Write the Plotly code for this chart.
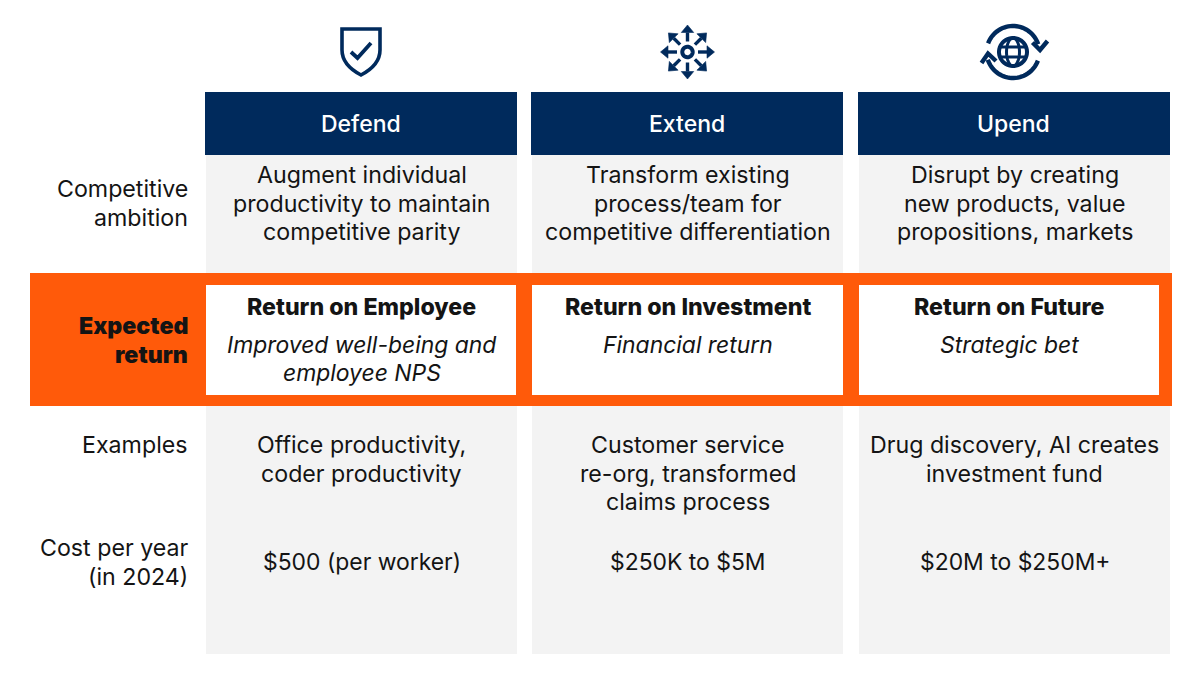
import numpy as np
import plotly.graph_objects as go

FONT = "Inter"
NAVY = "#002A5C"
ORANGE = "#FF5A0A"
GRAY = "#F3F3F3"
INK = "#141414"

columns = ["Defend", "Extend", "Upend"]
ambition = [
    ["Augment individual", "productivity to maintain", "competitive parity"],
    ["Transform existing", "process/team for", "competitive differentiation"],
    ["Disrupt by creating", "new products, value", "propositions, markets"],
]
return_titles = ["Return on Employee", "Return on Investment", "Return on Future"]
return_notes = [
    ["Improved well-being and", "employee NPS"],
    ["Financial return"],
    ["Strategic bet"],
]
examples = [
    ["Office productivity,", "coder productivity"],
    ["Customer service", "re-org, transformed", "claims process"],
    ["Drug discovery, AI creates", "investment fund"],
]
costs = ["$500 (per worker)", "$250K to $5M", "$20M to $250M+"]
row_labels = [
    (["Competitive", "ambition"], 189, False),
    (["Expected", "return"], 326, True),
    (["Examples"], 445, False),
    (["Cost per year", "(in 2024)"], 548, False),
]

col_left = [206, 532, 859]
col_right = [517, 843, 1170]
box_left = [206, 532, 859]
box_right = [516, 843, 1159]
LINE = 28.5
SIZE = 23.2

shapes, notes = [], []


def rect(x0, y0, x1, y1, color):
    shapes.append(dict(type="rect", xref="x", yref="y", x0=x0, x1=x1, y0=y0, y1=y1,
                       fillcolor=color, line=dict(width=0), layer="below"))


def text(s, x, y, anchor="center", weight=400, italic=False, color=INK, size=SIZE):
    notes.append(dict(text=s, x=x, y=y, xref="x", yref="y",
                      xanchor=anchor, yanchor="middle", showarrow=False,
                      font=dict(family=FONT, size=size, color=color, weight=weight,
                                style="italic" if italic else "normal")))


def block(lines, x, y, **kw):
    for i, s in enumerate(lines):
        text(s, x, y + i * LINE, **kw)


def path(d, width=3.4, fill=None):
    shapes.append(dict(type="path", xref="x", yref="y", path=d,
                       line=dict(color=NAVY, width=width),
                       fillcolor=fill if fill else "rgba(0,0,0,0)"))


def poly(pts, close=False):
    return "M" + " L".join(f"{x:.2f},{y:.2f}" for x, y in pts) + (" Z" if close else "")


def arc(cx, cy, r, a0, a1, n=32, ry=None):
    t = np.radians(np.linspace(a0, a1, n))
    return list(zip(cx + r * np.cos(t), cy + (ry if ry else r) * np.sin(t)))


for i in range(3):
    rect(col_left[i], 155, col_right[i], 654, GRAY)
    rect(col_left[i] - 1, 92, col_right[i], 155, NAVY)
rect(30, 273, 1172, 406, ORANGE)
for i in range(3):
    rect(box_left[i], 285, box_right[i], 395, "#FFFFFF")

for i in range(3):
    cx = (col_left[i] + col_right[i]) / 2
    text(columns[i], cx - 1, 123.5, color="#FFFFFF", weight=500, size=23)
    block(ambition[i], cx, 175)
    text(return_titles[i], cx - (0 if i < 2 else 5), 307, weight=800)
    block(return_notes[i], cx - (0 if i < 2 else 5), 344.5, italic=True, size=22.9)
    block(examples[i], cx, 445)
    text(costs[i], cx, 561.5, size=22.9)

for lines, y, bold in row_labels:
    block(lines, 190, y, anchor="right", weight=900 if bold else 400)

# Shield icon
path("M342,29 L380,29 L380,50 Q380,65 361,75 Q342,65 342,50 Z", 3.6)
path(poly([(351, 52), (357.5, 58), (371, 43)]), 3.8)

# Burst icon: ring and eight arrows
cx, cy = 687.5, 52
path(poly(arc(cx, cy, 5.2, 0, 360), True), 4)
for k in range(8):
    a = np.radians(45 * k)
    u = np.array([np.cos(a), np.sin(a)])
    v = np.array([-u[1], u[0]])
    c = np.array([cx, cy])
    tip = 27
    shaft = c + u * 10.5
    neck = c + u * (tip - 7.5)
    path(poly([tuple(shaft), tuple(neck)]), 3.4)
    head = [tuple(c + u * tip), tuple(neck + v * 6.2), tuple(neck - v * 6.2)]
    path(poly(head, True), 0.6, NAVY)

# Globe icon
gx, gy = 1013, 52
path(poly(arc(gx, gy, 14, 0, 360, 48), True), 4)
path(poly(arc(gx, gy, 6.5, -90, 90, 20, ry=14)), 3)
path(poly(arc(gx, gy, 6.5, 90, 270, 20, ry=14)), 3)
path(poly([(gx - 13, gy - 5), (gx + 13, gy - 5)]), 3)
path(poly([(gx - 13, gy + 5), (gx + 13, gy + 5)]), 3)
path(poly(arc(gx, gy + 0.5, 26.5, 200, 342, 32)), 4.4)
path(poly(arc(gx, gy - 0.5, 26.5, 20, 162, 32)), 4.4)
path(poly([(1032.5, 42.5), (1040, 50), (1047.5, 41)]), 4.4)
path(poly([(981.5, 63), (988, 53.5), (996, 61)]), 4.4)

fig = go.Figure()
fig.update_layout(
    width=1200, height=675, margin=dict(l=0, r=0, t=0, b=0),
    paper_bgcolor="#FFFFFF", plot_bgcolor="#FFFFFF", showlegend=False,
    xaxis=dict(range=[0, 1200], visible=False, fixedrange=True),
    yaxis=dict(range=[675, 0], visible=False, fixedrange=True),
    shapes=shapes, annotations=notes,
)
fig.write_html("out.html", config={"displayModeBar": False},
               post_script="document.body.style.margin='0';document.body.style.overflow='hidden';")
